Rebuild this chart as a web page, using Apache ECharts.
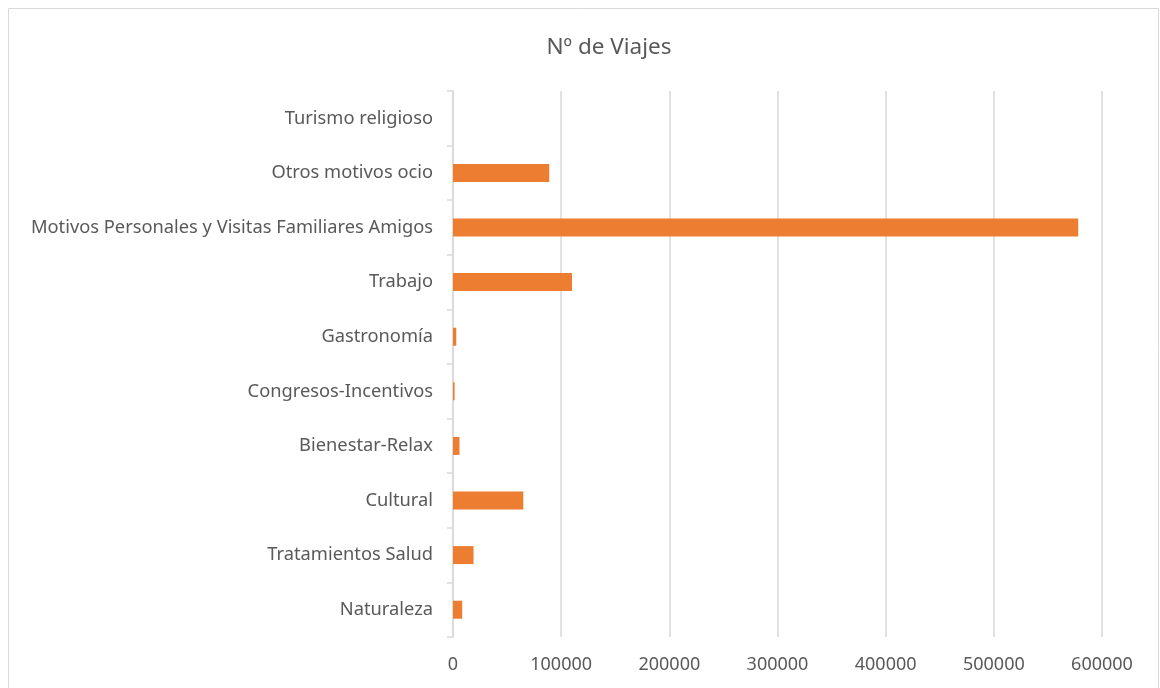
<!DOCTYPE html>
<html>
<head>
<meta charset="utf-8">
<script src="https://cdn.jsdelivr.net/npm/echarts@6/dist/echarts.min.js"></script>
<style>
html,body{margin:0;padding:0;background:#fff;}
#chart{width:1160px;height:688px;}
</style>
</head>
<body>
<div id="chart"></div>
<script>
// Categories listed bottom to top (ECharts category y-axis order)
const categories = [
  'Naturaleza',
  'Tratamientos Salud',
  'Cultural',
  'Bienestar-Relax',
  'Congresos-Incentivos',
  'Gastronomía',
  'Trabajo',
  'Motivos Personales y Visitas Familiares Amigos',
  'Otros motivos ocio',
  'Turismo religioso'
];
const viajes = [8500, 19000, 65000, 6000, 1500, 3000, 110000, 578000, 89000, 0];
const seriesName = 'Nº de Viajes';

const chart = echarts.init(document.getElementById('chart'), null, {renderer: 'canvas'});
const fontFamily = '"Noto Sans", "Open Sans", sans-serif';
chart.setOption({
  animation: false,
  backgroundColor: '#fff',
  title: {
    text: seriesName,
    left: 604,
    textAlign: 'center',
    top: 31,
    textStyle: {fontFamily: fontFamily, fontSize: 22.5, fontWeight: 'normal', color: '#595959'}
  },
  graphic: [{
    type: 'rect',
    shape: {x: 8.5, y: 8.5, width: 1150, height: 700},
    style: {fill: 'none', stroke: '#d9d9d9', lineWidth: 1},
    silent: true
  }],
  grid: {left: 453, right: 58, top: 91, bottom: 51},
  xAxis: {
    type: 'value',
    min: 0,
    max: 600000,
    interval: 100000,
    axisLine: {show: false},
    axisTick: {show: false},
    splitLine: {show: true, lineStyle: {color: '#d9d9d9', width: 1.5}},
    axisLabel: {
      fontFamily: fontFamily, fontSize: 18, color: '#595959', margin: 19,
      formatter: function (v) { return String(v); }
    }
  },
  yAxis: {
    type: 'category',
    data: categories,
    axisLine: {show: true, lineStyle: {color: '#d9d9d9', width: 1.5}},
    axisTick: {show: true, length: 6, lineStyle: {color: '#d9d9d9', width: 1.5}},
    axisLabel: {fontFamily: fontFamily, fontSize: 18.3, color: '#595959', margin: 20}
  },
  series: [{
    name: seriesName,
    type: 'bar',
    data: viajes,
    barWidth: 18,
    itemStyle: {color: '#ED7D31'}
  }]
});
</script>
</body>
</html>
